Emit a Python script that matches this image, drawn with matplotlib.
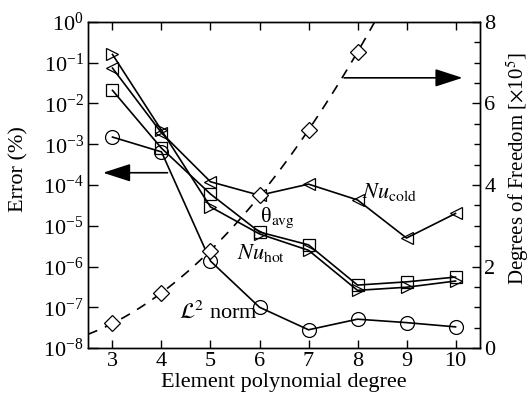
import numpy as np
import matplotlib
matplotlib.use("Agg")
import matplotlib.pyplot as plt
from matplotlib.ticker import LogLocator, MultipleLocator, NullLocator

plt.rcParams["font.family"] = ["Liberation Serif", "DejaVu Serif"]
plt.rcParams["mathtext.fontset"] = "stix"

degree = [3, 4, 5, 6, 7, 8, 9, 10]
nu_hot = [1.6e-1, 2.2e-3, 2.9e-5, 6.3e-6, 2.5e-6, 2.6e-7, 3.1e-7, 4.4e-7]
nu_cold = [7.4e-2, 1.9e-3, 1.2e-4, 5.6e-5, 1.05e-4, 4.3e-5, 5.0e-6, 2.0e-5]
theta_avg = [2.1e-2, 8.0e-4, 6.0e-5, 7.0e-6, 3.4e-6, 3.5e-7, 4.2e-7, 5.5e-7]
l2_norm = [1.5e-3, 6.5e-4, 1.36e-6, 1.0e-7, 2.8e-8, 5.1e-8, 4.2e-8, 3.3e-8]

dof_degree = [3, 4, 5, 6, 7, 8]
dof = [0.61, 1.35, 2.38, 3.75, 5.35, 7.26]  # x10^5

fig = plt.figure(figsize=(5.31, 3.97), dpi=100)
ax = fig.add_axes([0.1657, 0.1234, 0.7383, 0.8212])
ax2 = ax.twinx()

mk = dict(color="k", lw=1.2, mfc="none", mec="k", mew=0.9)
ax.plot(degree, nu_hot, marker=">", ms=9, **mk)
ax.plot(degree, nu_cold, marker="<", ms=9, **mk)
ax.plot(degree, theta_avg, marker="s", ms=8, **mk)
ax.plot(degree, l2_norm, marker="o", ms=10, **mk)

# dashed fit through the DOF points
coef = np.polyfit(dof_degree, dof, 2)
xf = np.linspace(2.5, 8.6, 100)
ax2.plot(xf, np.polyval(coef, xf), color="k", lw=1.2, ls=(0, (6, 5)))
ax2.plot(dof_degree, dof, ls="none", marker="D", ms=8, mfc="white", mec="k", mew=0.9)

ax.set_yscale("log")
ax.set_xlim(2.5, 10.5)
ax.set_ylim(1e-8, 1)
ax2.set_ylim(0, 8)
ax.set_xticks(degree)
ax.yaxis.set_major_locator(LogLocator(base=10, numticks=20))
ax.yaxis.set_minor_locator(NullLocator())
ax2.yaxis.set_major_locator(MultipleLocator(2))
ax2.yaxis.set_minor_locator(MultipleLocator(0.5))

ax.tick_params(axis="both", which="major", direction="in", length=6, width=1,
               labelsize=16, top=True, pad=3)
ax.tick_params(axis="y", length=7)
ax2.tick_params(axis="y", which="major", direction="in", length=6, width=1,
                labelsize=16, pad=3)
ax2.tick_params(axis="y", which="minor", direction="in", length=4, width=1)
for a in (ax, ax2):
    for s in a.spines.values():
        s.set_linewidth(1.0)

ax.set_xlabel("Element polynomial degree", fontsize=16, labelpad=1)
ax.set_ylabel("Error (%)", fontsize=16)
ax2.set_ylabel(r"Degrees of Freedom [$\times$10$^5$]", fontsize=15)
ax.yaxis.set_label_coords(-0.152, 0.55)
ax2.yaxis.set_label_coords(1.062, 0.55)

ax.text(6.0, 1.6e-5, r"θ$_{\rm avg}$", fontsize=16, va="center")
ax.text(5.55, 2.1e-6, r"$Nu_{\rm hot}$", fontsize=16, va="center")
ax.text(8.1, 6.8e-5, r"$Nu_{\rm cold}$", fontsize=16, va="center")
ax.text(4.35, 7.6e-8, r"$\mathcal{L}^2$ norm", fontsize=16, va="center")

arrow = dict(arrowstyle="-|>,head_length=1.7,head_width=0.55", color="k", lw=1.2)
ax.annotate("", xy=(2.75, 2e-4), xytext=(4.18, 2e-4), arrowprops=arrow)
ax2.annotate("", xy=(10.2, 6.63), xytext=(7.67, 6.63), arrowprops=arrow)

fig.savefig("out.png", dpi=100)
